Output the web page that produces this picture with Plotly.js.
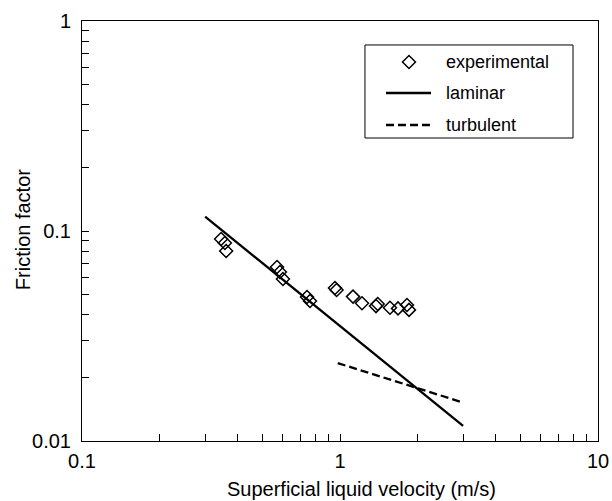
<!DOCTYPE html>
<html>
<head>
<meta charset="utf-8">
<script src="https://cdn.plot.ly/plotly-3.0.1.min.js"></script>
<style>html,body{margin:0;padding:0;background:#fff;}#chart{width:612px;height:501px;}</style>
</head>
<body>
<div id="chart"></div>
<script>
// Experimental data (superficial liquid velocity, friction factor)
const expVelocity = [0.346, 0.358, 0.362, 0.570, 0.585, 0.601, 0.745, 0.765, 0.956, 0.970,
                     1.123, 1.217, 1.379, 1.400, 1.562, 1.678, 1.818, 1.851];
const expFriction = [0.0916, 0.0877, 0.0803, 0.0674, 0.0638, 0.0591, 0.0485, 0.0464, 0.0535, 0.0524,
                     0.0487, 0.0453, 0.0439, 0.0449, 0.0431, 0.0428, 0.0444, 0.0421];
// Laminar model line
const lamVelocity = [0.3, 3.0];
const lamFriction = [0.117, 0.0118];
// Turbulent model line
const turbVelocity = [0.98, 2.97];
const turbFriction = [0.0235, 0.0153];

// Tick values (log axes with minor ticks)
const xTickVals = [0.1,0.2,0.3,0.4,0.5,0.6,0.7,0.8,0.9,1,2,3,4,5,6,7,8,9,10];
const xTickText = ['0.1','','','','','','','','','1','','','','','','','','','10'];
const yTickVals = [0.01,0.02,0.03,0.04,0.05,0.06,0.07,0.08,0.09,0.1,0.2,0.3,0.4,0.5,0.6,0.7,0.8,0.9,1];
const yTickText = ['0.01','','','','','','','','','0.1','','','','','','','','','1'];

// Legend labels and axis titles
const legendLabels = ['experimental', 'laminar', 'turbulent'];
const xTitle = 'Superficial liquid velocity (m/s)';
const yTitle = 'Friction factor';

const font = 'Liberation Sans, Arial, Helvetica, sans-serif';
const lamStyle = {color: '#000', width: 2.3};
const turbStyle = {color: '#000', width: 2.3, dash: '8px,4px'};

const traces = [
  {x: expVelocity, y: expFriction, mode: 'markers', name: legendLabels[0],
   marker: {symbol: 'diamond-open', size: 10, color: '#000', line: {width: 1.5, color: '#000'}}},
  {x: lamVelocity, y: lamFriction, mode: 'lines', name: legendLabels[1], line: lamStyle},
  {x: turbVelocity, y: turbFriction, mode: 'lines', name: legendLabels[2], line: turbStyle}
];

const axisCommon = {
  type: 'log', showgrid: false, zeroline: false, showline: true, linecolor: '#000', linewidth: 1,
  mirror: true, ticks: 'inside', ticklen: 7, tickwidth: 1, tickcolor: '#000',
  tickmode: 'array', tickfont: {family: font, size: 20, color: '#000'}
};

// Manual legend geometry (paper coordinates)
const lgX0 = 0.5484, lgX1 = 0.9516, lgY0 = 0.7214, lgY1 = 0.9429;
const rowY = [0.9024, 0.8286, 0.7524];
const symX0 = 0.5891, symX1 = 0.6764, symXc = 0.6337, txtX = 0.7016;
const dx = 6.5 / 516, dy = 6.5 / 420;

const shapes = [
  {type: 'rect', xref: 'paper', yref: 'paper', x0: lgX0, x1: lgX1, y0: lgY0, y1: lgY1,
   line: {color: '#000', width: 1}, fillcolor: '#fff', layer: 'above'},
  {type: 'path', xref: 'paper', yref: 'paper', layer: 'above', line: {color: '#000', width: 1.5},
   path: `M${symXc - dx},${rowY[0]} L${symXc},${rowY[0] + dy} L${symXc + dx},${rowY[0]} L${symXc},${rowY[0] - dy} Z`},
  {type: 'line', xref: 'paper', yref: 'paper', layer: 'above', x0: symX0, x1: symX1, y0: rowY[1], y1: rowY[1], line: lamStyle},
  {type: 'line', xref: 'paper', yref: 'paper', layer: 'above', x0: symX0, x1: symX1, y0: rowY[2], y1: rowY[2], line: turbStyle}
];

const annotations = legendLabels.map((t, i) => ({
  text: t, xref: 'paper', yref: 'paper', x: txtX, y: rowY[i], xanchor: 'left', yanchor: 'middle',
  showarrow: false, font: {family: font, size: 18, color: '#000'}
})).concat([
  {text: xTitle, xref: 'paper', yref: 'paper', x: 0.5407, y: -0.1143, xanchor: 'center', yanchor: 'middle',
   showarrow: false, font: {family: font, size: 20, color: '#000'}},
  {text: yTitle, xref: 'paper', yref: 'paper', x: -0.1143, y: 0.502, xanchor: 'center', yanchor: 'middle',
   textangle: -90, showarrow: false, font: {family: font, size: 20, color: '#000'}}
]);

const layout = {
  width: 612, height: 501,
  margin: {l: 82, r: 14, t: 21, b: 60},
  paper_bgcolor: '#fff', plot_bgcolor: '#fff',
  font: {family: font, color: '#000'},
  showlegend: false,
  xaxis: Object.assign({}, axisCommon, {range: [-1, 1], tickvals: xTickVals, ticktext: xTickText, ticklabelstandoff: 2}),
  yaxis: Object.assign({}, axisCommon, {range: [-2, 0], tickvals: yTickVals, ticktext: yTickText, ticklabelstandoff: 6}),
  shapes: shapes,
  annotations: annotations
};

Plotly.newPlot('chart', traces, layout, {displayModeBar: false, staticPlot: true});
</script>
</body>
</html>
